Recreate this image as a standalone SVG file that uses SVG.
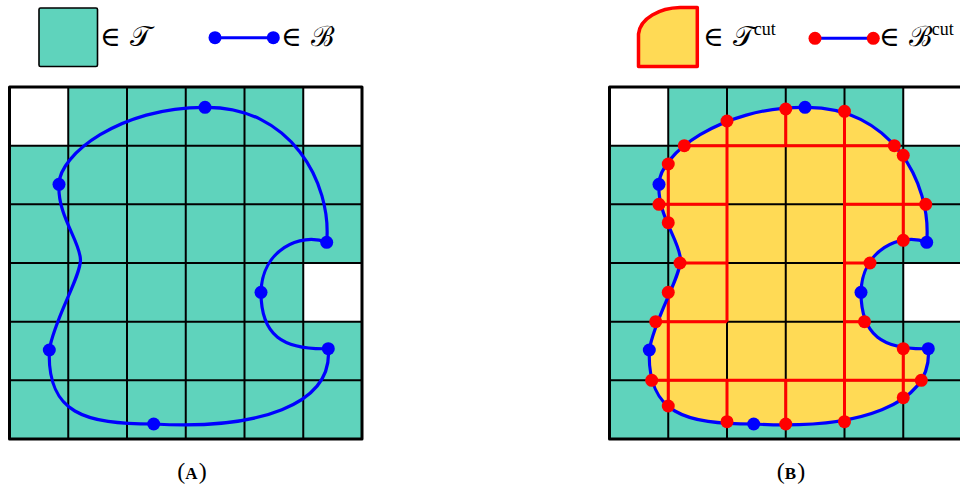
<svg xmlns="http://www.w3.org/2000/svg" xmlns:xlink="http://www.w3.org/1999/xlink" width="960" height="486" viewBox="0 0 960 486">
<style>
.teal{fill:#5fd3bc}
.white{fill:#ffffff}
.grid{stroke:#000;stroke-width:2;fill:none}
.border{stroke:#000;stroke-width:3;fill:none;stroke-linejoin:round}
.curve{fill:none;stroke:#0000ff;stroke-width:3.2;stroke-linejoin:round}
.cut{stroke:#ff0000;stroke-width:3;fill:none}
.bdot{fill:#0000ff}
.rdot{fill:#ff0000}
.yellow{fill:#ffda55}
.sym{font-family:"DejaVu Serif","Liberation Serif",serif;font-size:28px;fill:#000}
.sup{font-family:"Liberation Serif",serif;font-size:18px}
.cap{font-family:"Liberation Serif",serif;font-size:24px;fill:#000}
.sc{font-size:17px;font-weight:bold;letter-spacing:1px}
</style>
<defs>
<path id="shape" d="M205,107.3 C290,106 332,182 326.7,242.3 C300,232 262,250 261,292.3 C261,335 282,350 328.3,348.7 C333,405 258,430 153.7,424 C85,424 47,414 49.3,350 C54,320 80.5,277 80.5,260 C80.5,242 57,215 59,184.3 C59,155 120,107 205,107.3 Z"/>
<clipPath id="clipB">
<path transform="translate(600,0)" d="M205,107.3 C290,106 332,182 326.7,242.3 C300,232 262,250 261,292.3 C261,335 282,350 328.3,348.7 C333,405 258,430 153.7,424 C85,424 47,414 49.3,350 C54,320 80.5,277 80.5,260 C80.5,242 57,215 59,184.3 C59,155 120,107 205,107.3 Z"/>
</clipPath>
</defs>

<g id="legend-a">
<rect x="39" y="8" width="58.5" height="58.5" rx="1.5" class="teal" stroke="#000" stroke-width="1.6"/>
<text x="100" y="46" class="sym">∈ 𝒯</text>
<line x1="215" y1="37.7" x2="273.3" y2="37.7" stroke="#0000ff" stroke-width="3"/>
<circle cx="215" cy="37.7" r="6.5" class="bdot"/>
<circle cx="273.3" cy="37.7" r="6.5" class="bdot"/>
<text x="281" y="46" class="sym">∈ ℬ</text>
</g>

<g id="legend-b">
<path d="M638.5,66.5 L638.5,34 C640,18 660,8 680,7.5 L697.3,7.5 L697.3,66.5 Z" class="yellow" stroke="#ff0000" stroke-width="3.5" stroke-linejoin="round"/>
<text x="703" y="46" class="sym">∈ 𝒯<tspan class="sup" dy="-11">cut</tspan></text>
<line x1="815" y1="38.3" x2="873.3" y2="38.3" stroke="#0000ff" stroke-width="3"/>
<circle cx="815" cy="38.3" r="6.5" class="rdot"/>
<circle cx="873.3" cy="38.3" r="6.5" class="rdot"/>
<text x="879" y="46" class="sym">∈ ℬ<tspan class="sup" dy="-11">cut</tspan></text>
</g>

<g id="panel-a">
<rect x="9.5" y="87" width="352.5" height="352" class="teal"/>
<rect x="9.5" y="87" width="58.75" height="58.67" class="white"/>
<rect x="303.25" y="87" width="58.75" height="58.67" class="white"/>
<rect x="303.25" y="263" width="58.75" height="58.67" class="white"/>
<g class="grid">
<line x1="68.25" y1="87" x2="68.25" y2="439"/>
<line x1="127" y1="87" x2="127" y2="439"/>
<line x1="185.75" y1="87" x2="185.75" y2="439"/>
<line x1="244.5" y1="87" x2="244.5" y2="439"/>
<line x1="303.25" y1="87" x2="303.25" y2="439"/>
<line x1="9.5" y1="145.67" x2="362" y2="145.67"/>
<line x1="9.5" y1="204.33" x2="362" y2="204.33"/>
<line x1="9.5" y1="263" x2="362" y2="263"/>
<line x1="9.5" y1="321.67" x2="362" y2="321.67"/>
<line x1="9.5" y1="380.33" x2="362" y2="380.33"/>
</g>
<rect x="9.5" y="87" width="352.5" height="352" class="border"/>
<use xlink:href="#shape" href="#shape" class="curve"/>
<g class="bdot">
<circle cx="205" cy="107.3" r="6.5"/>
<circle cx="59" cy="184.3" r="6.5"/>
<circle cx="326.7" cy="242.3" r="6.5"/>
<circle cx="261" cy="292.3" r="6.5"/>
<circle cx="328.3" cy="348.7" r="6.5"/>
<circle cx="49.3" cy="350" r="6.5"/>
<circle cx="153.7" cy="424" r="6.5"/>
</g>
</g>

<g id="panel-b">
<rect x="609.5" y="87" width="352.5" height="352" class="teal"/>
<rect x="609.5" y="87" width="58.75" height="58.67" class="white"/>
<rect x="903.25" y="87" width="58.75" height="58.67" class="white"/>
<rect x="903.25" y="263" width="58.75" height="58.67" class="white"/>
<use xlink:href="#shape" href="#shape" x="600" class="yellow"/>
<g class="grid">
<line x1="668.25" y1="87" x2="668.25" y2="439"/>
<line x1="727" y1="87" x2="727" y2="439"/>
<line x1="785.75" y1="87" x2="785.75" y2="439"/>
<line x1="844.5" y1="87" x2="844.5" y2="439"/>
<line x1="903.25" y1="87" x2="903.25" y2="439"/>
<line x1="609.5" y1="145.67" x2="962" y2="145.67"/>
<line x1="609.5" y1="204.33" x2="962" y2="204.33"/>
<line x1="609.5" y1="263" x2="962" y2="263"/>
<line x1="609.5" y1="321.67" x2="962" y2="321.67"/>
<line x1="609.5" y1="380.33" x2="962" y2="380.33"/>
</g>
<rect x="609.5" y="87" width="352.5" height="352" class="border"/>
<g class="cut" clip-path="url(#clipB)">
<line x1="668.25" y1="87" x2="668.25" y2="439"/>
<line x1="727" y1="87" x2="727" y2="321.67"/>
<line x1="727" y1="380.33" x2="727" y2="439"/>
<line x1="785.75" y1="87" x2="785.75" y2="145.67"/>
<line x1="785.75" y1="380.33" x2="785.75" y2="439"/>
<line x1="844.5" y1="87" x2="844.5" y2="439"/>
<line x1="903.25" y1="87" x2="903.25" y2="439"/>
<line x1="609.5" y1="145.67" x2="962" y2="145.67"/>
<line x1="609.5" y1="204.33" x2="727" y2="204.33"/>
<line x1="844.5" y1="204.33" x2="962" y2="204.33"/>
<line x1="609.5" y1="263" x2="727" y2="263"/>
<line x1="844.5" y1="263" x2="962" y2="263"/>
<line x1="609.5" y1="321.67" x2="727" y2="321.67"/>
<line x1="844.5" y1="321.67" x2="962" y2="321.67"/>
<line x1="609.5" y1="380.33" x2="962" y2="380.33"/>
</g>
<use xlink:href="#shape" href="#shape" x="600" class="curve"/>
<g class="bdot">
<circle cx="805" cy="107.3" r="6.5"/>
<circle cx="659" cy="184.3" r="6.5"/>
<circle cx="926.7" cy="242.3" r="6.5"/>
<circle cx="861" cy="292.3" r="6.5"/>
<circle cx="928.3" cy="348.7" r="6.5"/>
<circle cx="649.3" cy="350" r="6.5"/>
<circle cx="753.7" cy="424" r="6.5"/>
</g>
<g class="rdot">
<circle cx="785.75" cy="109" r="6.5"/>
<circle cx="844.5" cy="111.3" r="6.5"/>
<circle cx="727" cy="121" r="6.5"/>
<circle cx="684.3" cy="145.67" r="6.5"/>
<circle cx="894.3" cy="145.67" r="6.5"/>
<circle cx="903.25" cy="155.3" r="6.5"/>
<circle cx="668.25" cy="164" r="6.5"/>
<circle cx="659" cy="204.33" r="6.5"/>
<circle cx="925.7" cy="204.33" r="6.5"/>
<circle cx="668.25" cy="222.7" r="6.5"/>
<circle cx="903.25" cy="240.3" r="6.5"/>
<circle cx="680" cy="263" r="6.5"/>
<circle cx="870" cy="263" r="6.5"/>
<circle cx="668.25" cy="292.3" r="6.5"/>
<circle cx="655.7" cy="321.67" r="6.5"/>
<circle cx="864.5" cy="321.67" r="6.5"/>
<circle cx="903.25" cy="348.7" r="6.5"/>
<circle cx="651.7" cy="380.33" r="6.5"/>
<circle cx="921.3" cy="380.33" r="6.5"/>
<circle cx="903.25" cy="397.7" r="6.5"/>
<circle cx="668.25" cy="406" r="6.5"/>
<circle cx="727" cy="421.7" r="6.5"/>
<circle cx="785.75" cy="424" r="6.5"/>
<circle cx="844.5" cy="421.7" r="6.5"/>
</g>
</g>

<g id="captions">
<text x="192" y="479" text-anchor="middle" class="cap">(<tspan class="sc">A</tspan>)</text>
<text x="791" y="479" text-anchor="middle" class="cap">(<tspan class="sc">B</tspan>)</text>
</g>
</svg>
